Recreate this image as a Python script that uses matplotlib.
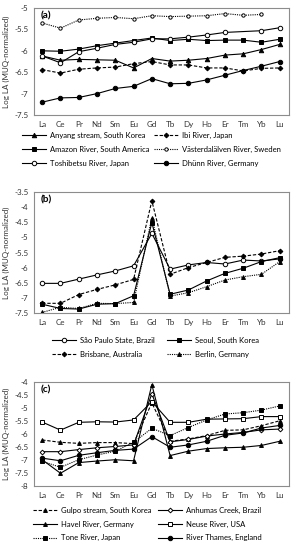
import matplotlib
matplotlib.use("Agg")
import matplotlib.pyplot as plt

plt.rcParams['font.family'] = ['Lato', 'DejaVu Sans']

elements = ["La", "Ce", "Pr", "Nd", "Sm", "Eu", "Gd", "Tb", "Dy", "Ho", "Er", "Tm", "Yb", "Lu"]

# panel (a)
anyang = [-6.12, -6.22, -6.20, -6.21, -6.22, -6.40, -6.18, -6.24, -6.22, -6.18, -6.10, -6.07, -5.97, -5.85]
ibi = [-6.44, -6.52, -6.43, -6.40, -6.38, -6.30, -6.25, -6.33, -6.33, -6.40, -6.40, -6.47, -6.41, -6.40]
amazon = [-6.00, -6.01, -5.96, -5.88, -5.82, -5.76, -5.70, -5.76, -5.73, -5.76, -5.75, -5.75, -5.80, -5.73]
vasterdal = [-5.35, -5.47, -5.28, -5.24, -5.22, -5.25, -5.18, -5.20, -5.19, -5.18, -5.13, -5.17, -5.15, None]
toshibetsu = [-6.12, -6.28, -6.02, -5.94, -5.85, -5.80, -5.72, -5.72, -5.68, -5.63, -5.57, None, -5.53, -5.46]
dhunn = [-7.20, -7.10, -7.09, -7.00, -6.88, -6.83, -6.65, -6.77, -6.76, -6.68, -6.57, -6.46, -6.36, -6.25]

# panel (b)
sao_paulo = [-6.52, -6.52, -6.38, -6.24, -6.11, -5.94, -4.87, -6.05, -5.91, -5.83, -5.88, -5.75, -5.78, -5.71]
seoul = [-7.21, -7.35, -7.37, -7.21, -7.19, -6.93, -4.51, -6.88, -6.74, -6.44, -6.19, -6.02, -5.80, -5.67]
brisbane = [-7.18, -7.18, -6.89, -6.72, -6.57, -6.39, -3.79, -6.22, -6.00, -5.83, -5.66, -5.62, -5.55, -5.44]
berlin = [-7.48, -7.31, -7.35, -7.18, -7.19, -7.15, -4.35, -6.94, -6.83, -6.63, -6.41, -6.30, -6.22, -5.80]

# panel (c)
gulpo = [-6.23, -6.32, -6.36, -6.33, -6.33, -6.37, -4.80, -6.28, -6.19, -6.06, -5.86, -5.84, -5.68, -5.49]
anhumas = [-6.68, -6.68, -6.60, -6.53, -6.48, -6.42, -4.45, -6.30, -6.21, -6.08, -6.00, -5.94, -5.84, -5.81]
havel = [-6.99, -7.51, -7.10, -7.04, -6.99, -7.03, -4.10, -6.83, -6.66, -6.56, -6.53, -6.51, -6.44, -6.28]
neuse = [-5.54, -5.85, -5.55, -5.53, -5.54, -5.46, -4.75, -5.55, -5.55, -5.43, -5.42, -5.41, -5.33, -5.33]
tone = [-7.05, -7.28, -6.99, -6.81, -6.66, -6.32, -5.78, -6.06, -5.75, -5.46, -5.23, -5.18, -5.08, -4.92]
thames = [-6.93, -7.03, -6.82, -6.72, -6.63, -6.58, -6.10, -6.51, -6.42, -6.28, -6.05, -5.96, -5.77, -5.67]

DASH = (0, (3, 1.6))
DOT = (0, (1, 1))
FS = 5.8


def draw(ax, x, y, label, marker, ls, filled=True, ms=3.2):
    pts = [(i, v) for i, v in zip(x, y) if v is not None]
    xs, ys = zip(*pts)
    ax.plot(xs, ys, color="black", lw=0.8, ls=ls, marker=marker, ms=ms,
            mfc="black" if filled else "white", mec="black", mew=0.7, label=label)


def style(ax, ylim, yticks, tag):
    ax.set_xlim(-0.45, 13.5)
    ax.set_ylim(*ylim)
    ax.set_yticks(yticks)
    ax.set_yticklabels([f"{t:g}" for t in yticks])
    ax.set_xticks(range(len(elements)))
    ax.set_xticklabels(elements)
    ax.tick_params(length=0, labelsize=FS, pad=4, colors="#333333")
    for s in ax.spines.values():
        s.set_color("#8c8c8c")
        s.set_linewidth(0.8)
    ax.set_ylabel("Log LA (MUQ-normalized)", fontsize=FS, labelpad=3, color="#333333")
    ax.text(0.025, 0.97, tag, transform=ax.transAxes, fontsize=7.2, fontweight="bold",
            va="top", ha="left")


def legend_rows(ax, x0, y0, colsp):
    # ncol=2 legend filled row by row
    h, l = ax.get_legend_handles_labels()
    order = list(range(0, len(h), 2)) + list(range(1, len(h), 2))
    fig.legend([h[i] for i in order], [l[i] for i in order], loc="upper left",
               bbox_to_anchor=(x0, y0), ncol=2, frameon=False, fontsize=5.5,
               handlelength=3.2, columnspacing=colsp, handletextpad=0.5,
               labelspacing=0.9, borderpad=0, borderaxespad=0)


fig = plt.figure(figsize=(2.94, 5.5), dpi=100)
x = list(range(len(elements)))

ax1 = fig.add_axes([0.1156, 0.7909, 0.867, 0.1945])
draw(ax1, x, anyang, "Anyang stream, South Korea", "^", "-")
draw(ax1, x, ibi, "Ibi River, Japan", "D", DASH, ms=2.4)
draw(ax1, x, amazon, "Amazon River, South America", "s", "-")
draw(ax1, x, vasterdal, "Västerdalälven River, Sweden", "o", DOT, filled=False, ms=2.4)
draw(ax1, x, toshibetsu, "Toshibetsu River, Japan", "o", "-", filled=False)
draw(ax1, x, dhunn, "Dhünn River, Germany", "o", "-")
style(ax1, (-7.5, -5), [-7.5, -7, -6.5, -6, -5.5, -5], "(a)")

ax2 = fig.add_axes([0.1156, 0.4309, 0.867, 0.22])
draw(ax2, x, sao_paulo, "São Paulo State, Brazil", "o", "-", filled=False)
draw(ax2, x, seoul, "Seoul, South Korea", "s", "-")
draw(ax2, x, brisbane, "Brisbane, Australia", "D", DASH, ms=2.4)
draw(ax2, x, berlin, "Berlin, Germany", "^", DOT, ms=2.8)
style(ax2, (-7.5, -3.5), [-7.5, -7, -6.5, -6, -5.5, -5, -4.5, -4, -3.5], "(b)")

ax3 = fig.add_axes([0.1156, 0.1164, 0.867, 0.189])
draw(ax3, x, gulpo, "Gulpo stream, South Korea", "^", DASH, ms=2.8)
draw(ax3, x, anhumas, "Anhumas Creek, Brazil", "D", "-", filled=False, ms=2.4)
draw(ax3, x, havel, "Havel River, Germany", "^", "-", ms=2.8)
draw(ax3, x, neuse, "Neuse River, USA", "s", "-", filled=False)
draw(ax3, x, tone, "Tone River, Japan", "s", DOT)
draw(ax3, x, thames, "River Thames, England", "o", "-")
style(ax3, (-8, -4), [-8, -7.5, -7, -6.5, -6, -5.5, -5, -4.5, -4], "(c)")

legend_rows(ax1, 0.075, 0.760, 0.5)
legend_rows(ax2, 0.177, 0.388, 1.5)
legend_rows(ax3, 0.112, 0.079, 0.8)

fig.savefig("out.png", dpi=100)
